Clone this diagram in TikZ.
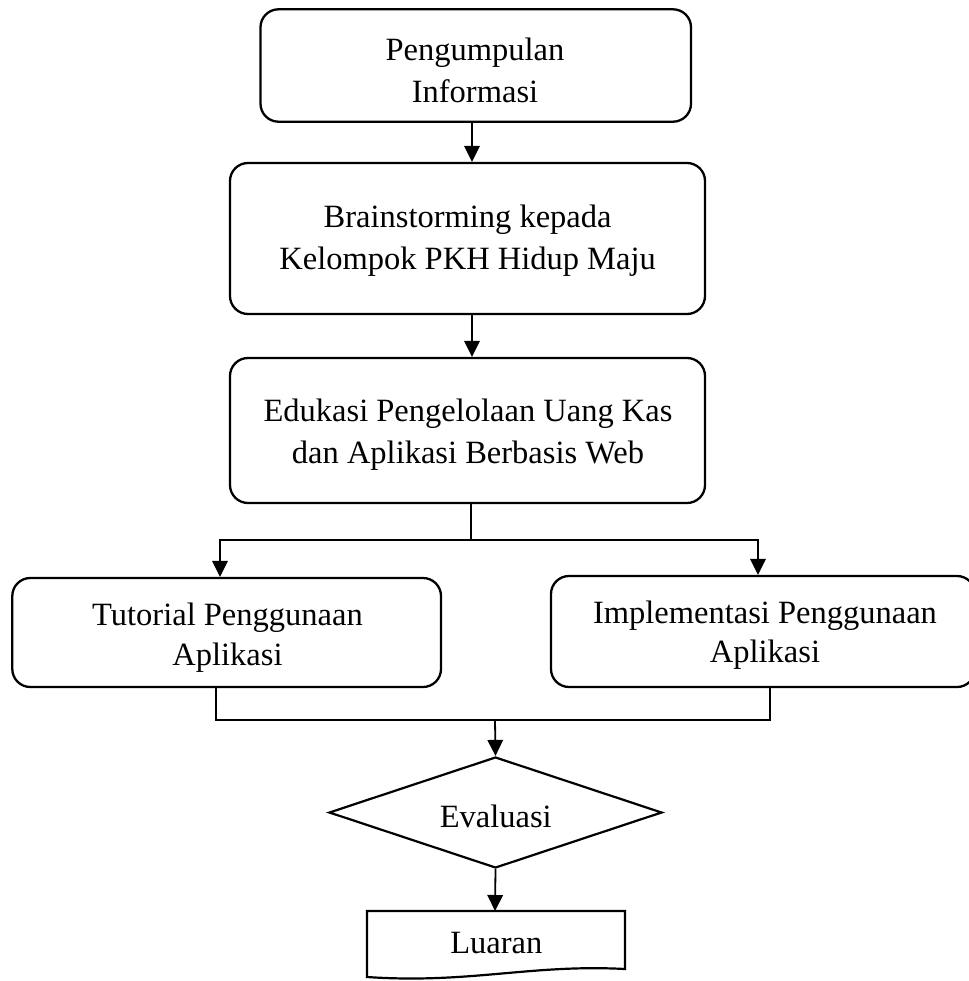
\documentclass[tikz,border=0pt]{standalone}
\usepackage{fontspec}
\setmainfont{Liberation Serif}
\usetikzlibrary{arrows.meta,shapes.geometric}
\begin{document}
\begin{tikzpicture}[x=1pt,y=-1pt,
  box/.style={draw, line width=2.3pt, rounded corners=18pt, inner sep=0pt},
  txt/.style={inner sep=0pt, anchor=base, font=\fontsize{32.5pt}{42pt}\selectfont},
  txtb/.style={inner sep=0pt, anchor=base, font=\fontsize{32.5pt}{39.5pt}\selectfont},
  conn/.style={line width=1.8pt},
  arr/.style={line width=1.8pt, -{Triangle[width=15.5pt,length=16pt]}},
  shp/.style={draw, line width=2.2pt, line join=miter}
]
\useasboundingbox (0,0) rectangle (968,981);
% boxes
\node[box, minimum width=430.5pt, minimum height=112.4pt] (b1) at (475.75,65.5) {};
\node[box, minimum width=475pt, minimum height=151pt] (b2) at (467.5,238.5) {};
\node[box, minimum width=475pt, minimum height=145pt] (b3) at (467.5,430.5) {};
\node[box, minimum width=428.7pt, minimum height=109pt] (b4) at (226.65,632.5) {};
\node[box, minimum width=424pt, minimum height=111pt] (b5) at (763,631.5) {};
\node[shp, diamond, inner sep=0pt, minimum width=333pt, minimum height=111pt] (ev) at (495.5,812.5) {};
\draw[shp] (367,911) coordinate (lnw) -- (625,911) -- (625,969)
  .. controls (530,964) and (470,984) .. (367,977) -- cycle;
% texts
\node[txt] (t1) at (475,61) {\begin{tabular}[t]{@{}c@{}}Pengumpulan\\Informasi\end{tabular}};
\node[txt] (t2) at (467.6,228) {\begin{tabular}[t]{@{}c@{}}Brainstorming kepada\\Kelompok PKH Hidup Maju\end{tabular}};
\node[txt] (t3) at (468,421.7) {\begin{tabular}[t]{@{}c@{}}Edukasi Pengelolaan Uang Kas\\dan Aplikasi Berbasis Web\end{tabular}};
\node[txtb] (t4) at (227.5,625.7) {\begin{tabular}[t]{@{}c@{}}Tutorial Penggunaan\\Aplikasi\end{tabular}};
\node[txtb] (t5) at (765,623.3) {\begin{tabular}[t]{@{}c@{}}Implementasi Penggunaan\\Aplikasi\end{tabular}};
\node[txt] (t6) at (495.8,827.3) {Evaluasi};
\node[txt] (t7) at (496.3,953.3) {Luaran};
% coordinates for connectors
\coordinate (xa) at (472,0);
\coordinate (sp) at (471,540);
\coordinate (cl) at (220,0);
\coordinate (cr) at (758,0);
\coordinate (ml) at (216,0);
\coordinate (mr) at (770,0);
\coordinate (mg) at (495,720);
\coordinate (lu) at (495,911);
% connectors
\draw[arr] (b1.south -| xa) -- (b2.north -| xa);
\draw[arr] (b2.south -| xa) -- (b3.north -| xa);
\draw[conn] (b3.south -| sp) -- (sp);
\draw[arr] (sp) -- (cl |- sp) -- (b4.north -| cl);
\draw[arr] (sp) -- (cr |- sp) -- (b5.north -| cr);
\draw[conn] (b4.south -| ml) -- (ml |- mg) -- (mr |- mg) -- (b5.south -| mr);
\draw[arr] (mg) -- (ev.north);
\draw[arr] (ev.south) -- (lu);
\end{tikzpicture}
\end{document}
